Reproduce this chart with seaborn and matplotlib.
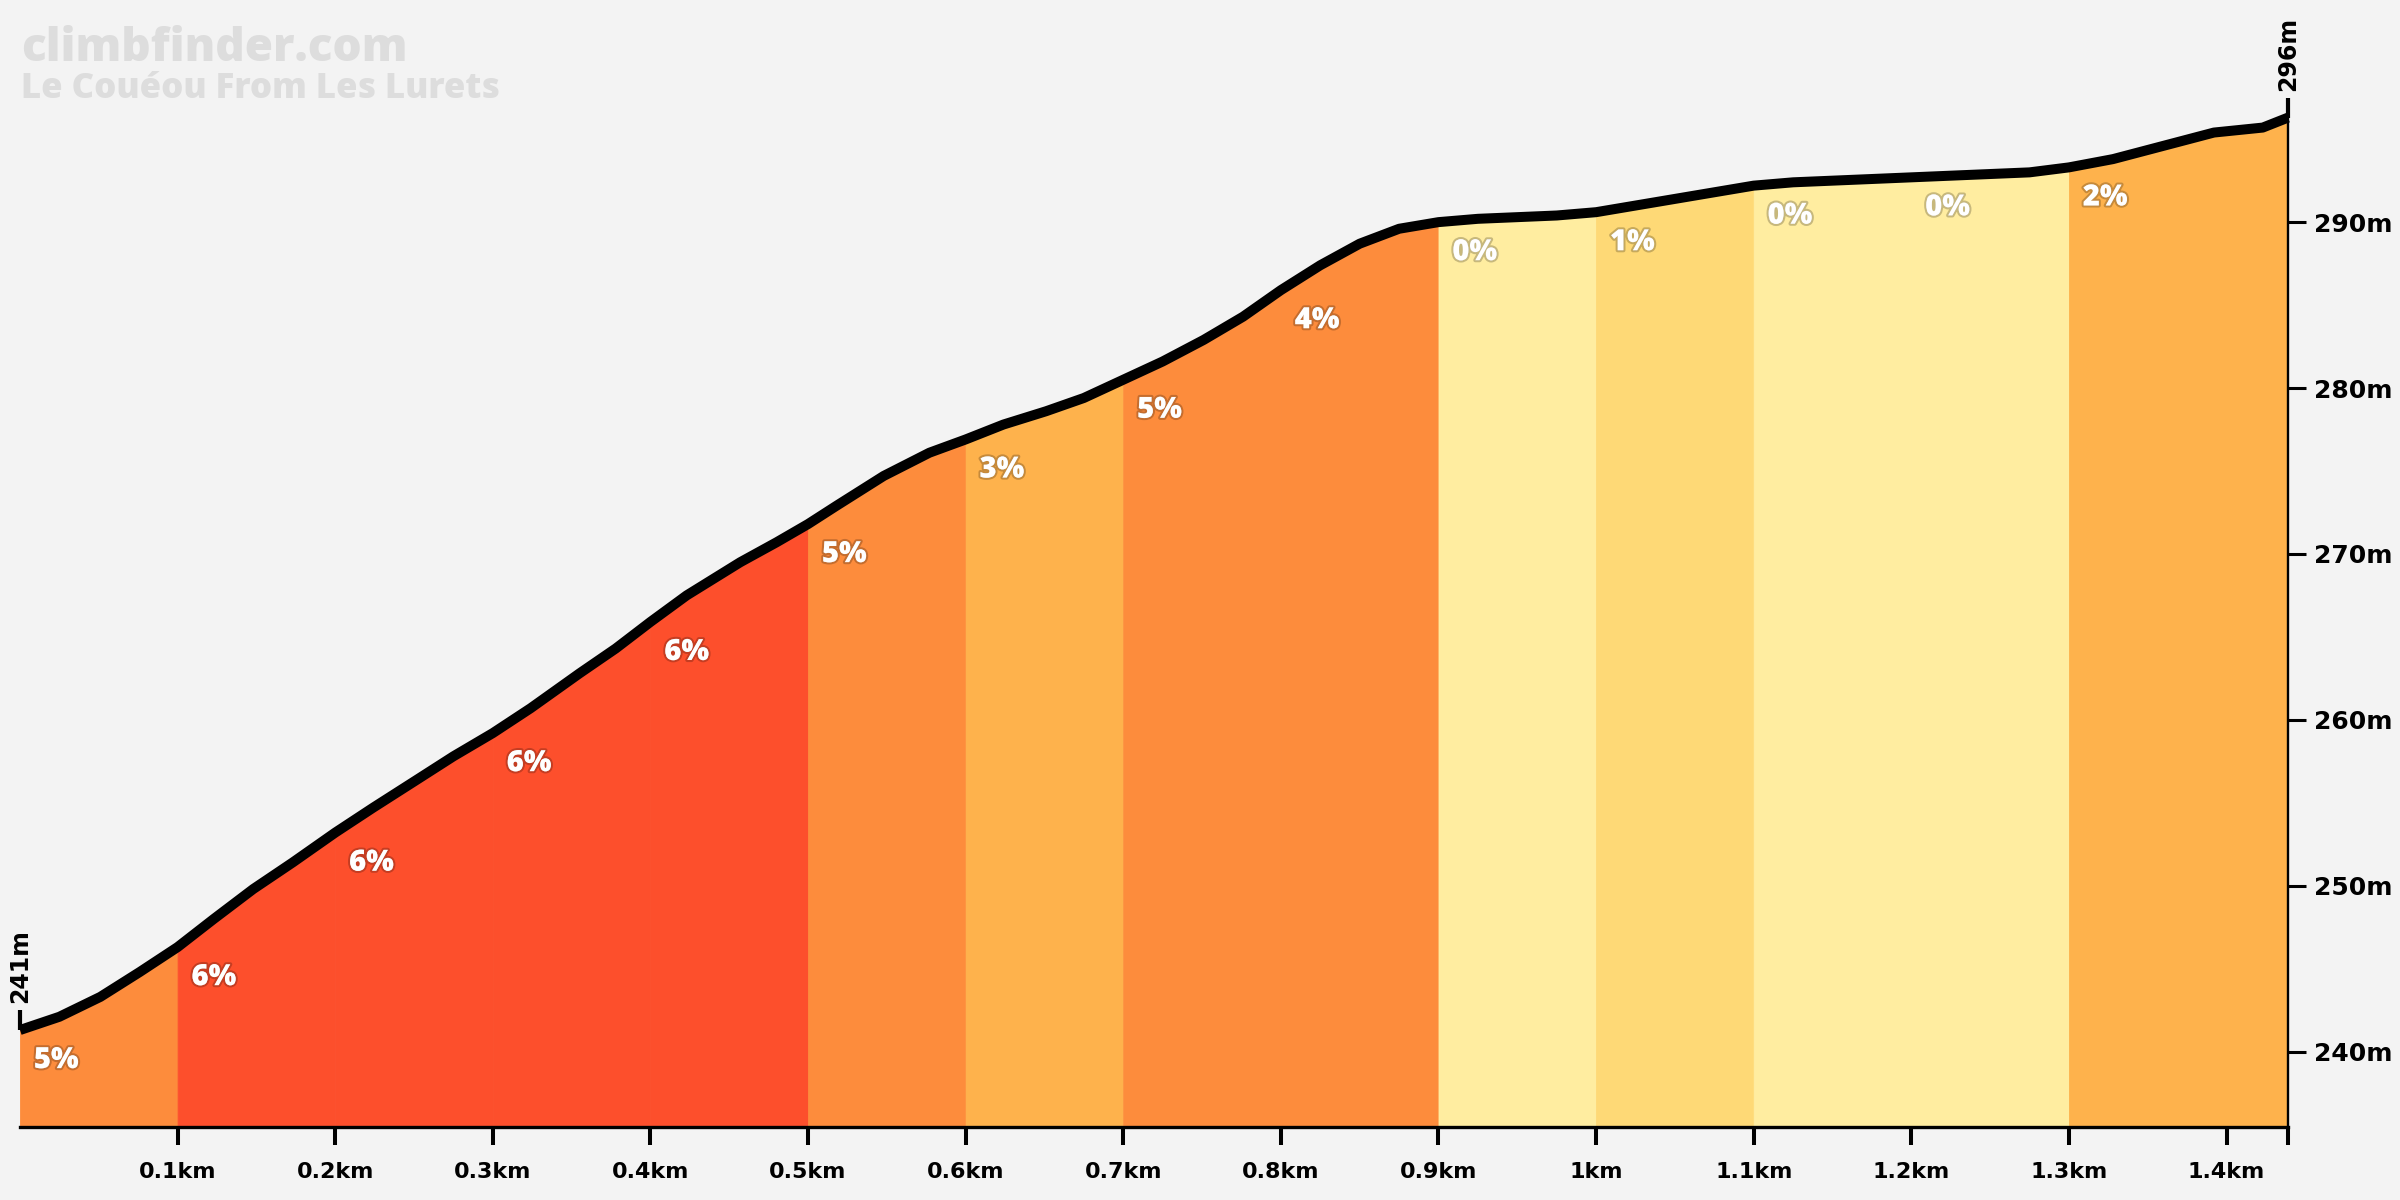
import matplotlib
matplotlib.use("Agg")
import matplotlib.pyplot as plt
import matplotlib.patheffects as pe
import seaborn as sns
import pandas as pd

# Profile (km, m)
distance_km = [0.000, 0.025, 0.051, 0.076, 0.100, 0.123, 0.148, 0.173, 0.200, 0.224,
               0.252, 0.275, 0.300, 0.324, 0.355, 0.378, 0.400, 0.423, 0.457, 0.480,
               0.500, 0.518, 0.548, 0.577, 0.600, 0.624, 0.651, 0.675, 0.700, 0.725,
               0.751, 0.776, 0.800, 0.825, 0.850, 0.875, 0.900, 0.925, 0.950, 0.975,
               1.000, 1.025, 1.050, 1.075, 1.100, 1.125, 1.150, 1.175, 1.200, 1.225,
               1.250, 1.275, 1.300, 1.328, 1.360, 1.392, 1.423, 1.439]
elevation_m = [241.3, 242.1, 243.3, 244.8, 246.3, 248.0, 249.8, 251.4, 253.2, 254.7,
               256.4, 257.8, 259.2, 260.7, 262.8, 264.3, 265.9, 267.5, 269.5, 270.7,
               271.8, 272.9, 274.7, 276.1, 276.9, 277.8, 278.6, 279.4, 280.5, 281.6,
               282.9, 284.3, 285.9, 287.4, 288.7, 289.6, 290.0, 290.2, 290.3, 290.4,
               290.6, 291.0, 291.4, 291.8, 292.2, 292.4, 292.5, 292.6, 292.7, 292.8,
               292.9, 293.0, 293.3, 293.8, 294.6, 295.4, 295.7, 296.3]

# 100 m segments
segment_starts = [0.0, 0.1, 0.2, 0.3, 0.4, 0.5, 0.6, 0.7, 0.8, 0.9, 1.0, 1.1, 1.2, 1.3]
segment_ends = [0.1, 0.2, 0.3, 0.4, 0.5, 0.6, 0.7, 0.8, 0.9, 1.0, 1.1, 1.2, 1.3, 1.439]
segment_grades = ['5%', '6%', '6%', '6%', '6%', '5%', '3%', '5%', '4%', '0%', '1%', '0%', '0%', '2%']
segment_colors = ['#fd8c3c', '#fd4f2c', '#fd4f2c', '#fd4f2c', '#fd4f2c', '#fd8c3c', '#feb24c',
                  '#fd8c3c', '#fd8c3c', '#ffeda0', '#fed976', '#ffeda0', '#ffeda0', '#feb24c']

x_ticks = [0.1, 0.2, 0.3, 0.4, 0.5, 0.6, 0.7, 0.8, 0.9, 1.0, 1.1, 1.2, 1.3, 1.4, 1.439]
x_labels = ['0.1km', '0.2km', '0.3km', '0.4km', '0.5km', '0.6km', '0.7km', '0.8km',
            '0.9km', '1km', '1.1km', '1.2km', '1.3km', '1.4km', '']
y_ticks = [240, 250, 260, 270, 280, 290]
y_labels = ['240m', '250m', '260m', '270m', '280m', '290m']

title = 'climbfinder.com'
subtitle = 'Le Couéou From Les Lurets'

df = pd.DataFrame({'km': distance_km, 'elev': elevation_m})

bg = '#f3f3f3'
sns.set_theme(style='white', rc={'figure.facecolor': bg, 'axes.facecolor': bg})
plt.rcParams['font.family'] = ['Open Sans', 'DejaVu Sans']
tick_font = ['DejaVu Sans']

fig = plt.figure(figsize=(24, 12), dpi=100)
ax = fig.add_axes([20 / 2400, 73 / 1200, 2268 / 2400, 1127 / 1200])
ymin, ymax = 235.455, 303.39
ax.set_xlim(0, 1.439)
ax.set_ylim(ymin, ymax)

# coloured gradient segments
for s, e, c in zip(segment_starts, segment_ends, segment_colors):
    part = df[(df['km'] >= s - 1e-9) & (df['km'] <= e + 1e-9)]
    ax.fill_between(part['km'], ymin, part['elev'], color=c, linewidth=0.6, edgecolor=c, zorder=1)

sns.lineplot(data=df, x='km', y='elev', color='black', linewidth=7.2, ax=ax,
             zorder=3, clip_on=False, sort=True)
ax.lines[-1].set_solid_capstyle('butt')

# grade labels
shadow = [pe.Stroke(linewidth=3, foreground=(0, 0, 0, 0.22)), pe.Normal()]
for s, g in zip(segment_starts, segment_grades):
    y0 = elevation_m[distance_km.index(s)]
    ax.annotate(g, xy=(s, y0), xytext=(10, -22), textcoords='offset points',
                ha='left', va='center', color='white', fontsize=21, fontweight='heavy',
                path_effects=shadow, zorder=4)

# start / end markers
for xm, ym, lab in [(distance_km[0], elevation_m[0], '241m'), (distance_km[-1], elevation_m[-1], '296m')]:
    ax.plot([xm, xm], [ym, ym + 1.2], color='black', linewidth=3, clip_on=False, zorder=5,
            solid_capstyle='butt')
    ax.annotate(lab, xy=(xm, ym + 1.2), xytext=(0, 5), textcoords='offset points',
                rotation=90, ha='center', va='bottom', fontsize=17, fontweight='bold',
                family=tick_font, color='black')

# axes styling
for side in ['top', 'left']:
    ax.spines[side].set_visible(False)
ax.spines['bottom'].set_color('black')
ax.spines['bottom'].set_linewidth(2.4)
ax.spines['right'].set_color('black')
ax.spines['right'].set_linewidth(1.7)
ax.spines['right'].set_bounds(ymin, elevation_m[-1])

ax.set_xticks(x_ticks)
ax.set_xticklabels(x_labels, fontsize=16, fontweight='bold', family=tick_font)
ax.set_yticks(y_ticks)
ax.set_yticklabels(y_labels, fontsize=18, fontweight='bold', family=tick_font)
ax.yaxis.tick_right()
ax.tick_params(axis='x', direction='out', length=13, width=2.9, color='black',
               labelcolor='black', pad=12, bottom=True)
ax.tick_params(axis='y', direction='out', length=13, width=2.2, color='black',
               labelcolor='black', pad=6, right=True, left=False)
ax.set_xlabel('')
ax.set_ylabel('')
ax.grid(False)

fig.text(21 / 2400, 1 - 61 / 1200, title, color='#dddddd', fontsize=33, fontweight='heavy',
         ha='left', va='baseline')
fig.text(21 / 2400, 1 - 98 / 1200, subtitle, color='#dddddd', fontsize=25, fontweight='heavy',
         ha='left', va='baseline')

fig.savefig('out.png', dpi=100, facecolor=bg)
